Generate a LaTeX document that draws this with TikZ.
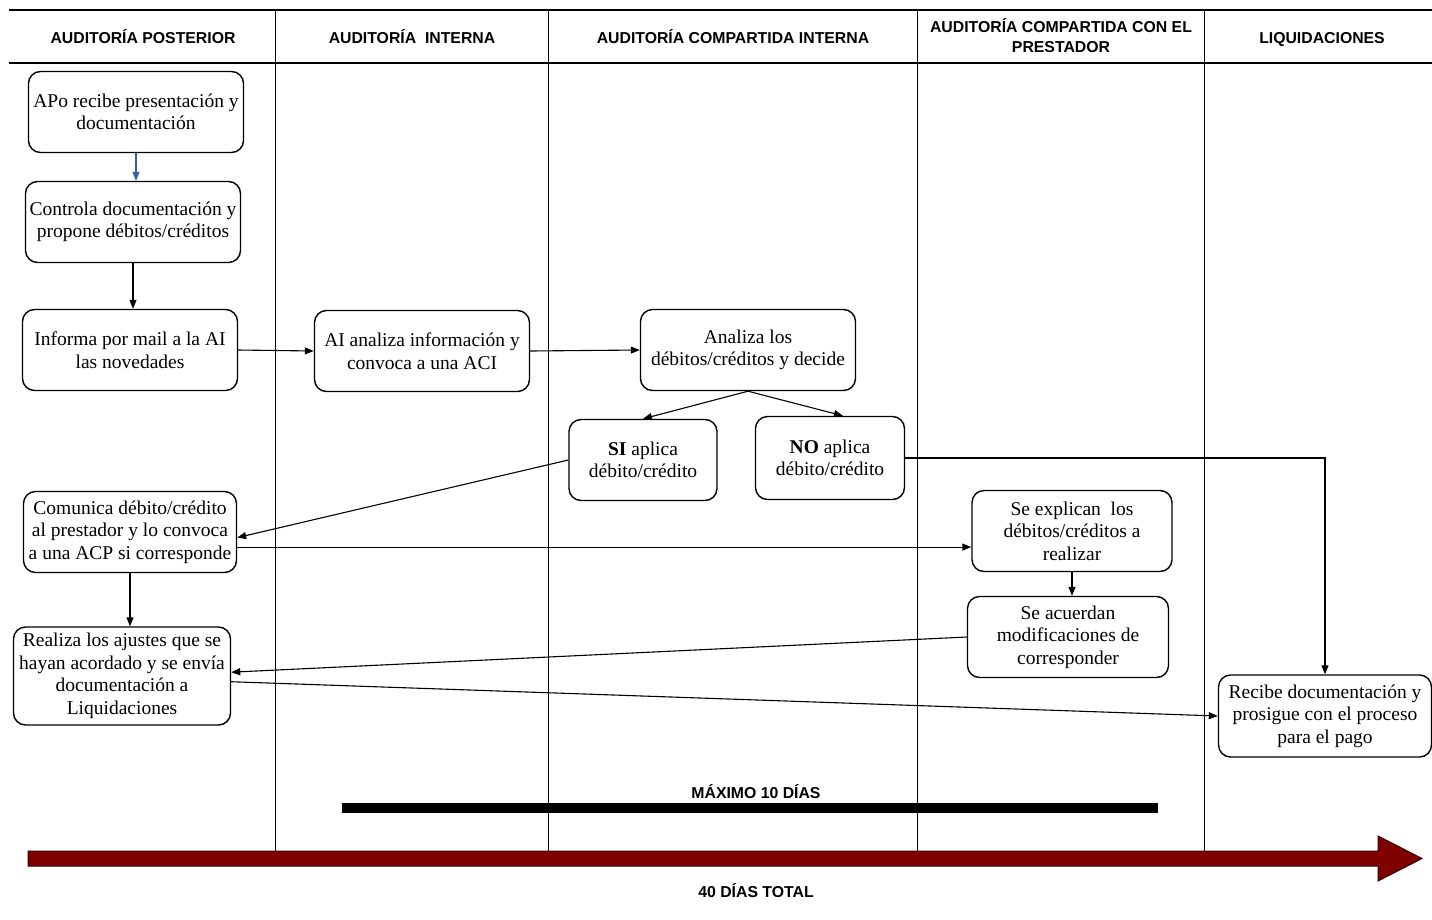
\documentclass[tikz,border=0pt]{standalone}
\usepackage{fontspec}
\setmainfont{Liberation Serif}
\setsansfont{Liberation Sans}
\usetikzlibrary{arrows.meta}
\definecolor{darkwine}{RGB}{128,0,0}
\definecolor{linkblue}{RGB}{55,95,170}

\begin{document}
\begin{tikzpicture}[x=1pt, y=-1pt, >={Triangle[length=9pt,width=7pt]}]
	\tikzstyle{box} = [rectangle, rounded corners=12pt, draw=black, line width=1.4pt, align=center, inner sep=2pt, minimum width=215pt, minimum height=81pt, font=\fontsize{19.5}{22.5}\selectfont]
	\tikzstyle{lane} = [align=center, inner sep=0pt, font=\sffamily\bfseries\fontsize{15.8}{20}\selectfont]
	\tikzstyle{flow} = [->, line width=1.1pt]
	\useasboundingbox (0,0) rectangle (1432,919);

	%Swimlane grid
	\draw[line width=1.4pt] (9,10) -- (1432,10) (9,63) -- (1432,63);
	\foreach \x in {275,548,917,1204}
		\draw[line width=0.9pt] (\x,10) -- (\x,851);
	\node[lane, anchor=base] (h_apo) at (143,43) {AUDITORÍA POSTERIOR};
	\node[lane, anchor=base] (h_ai) at (412,43) {AUDITORÍA~ INTERNA};
	\node[lane, anchor=base] (h_aci) at (733,43) {AUDITORÍA COMPARTIDA INTERNA};
	\node[lane] (h_acp) at (1061,36) {AUDITORÍA COMPARTIDA CON EL\\PRESTADOR};
	\node[lane, anchor=base] (h_liq) at (1322,43) {LIQUIDACIONES};

	\node[box] (apo_recibe) at (136,112) {APo recibe presentación y\\documentación};
	\node[box] (controla_doc) at (133,222) {Controla documentación y\\propone débitos/créditos};
	\node[box] (informa_ai) at (130,350) {Informa por mail a la AI\\las novedades};
	\node[box] (ai_analiza) at (422,351) {AI analiza información y\\convoca a una ACI};
	\node[box] (analiza_deb) at (748,350) {Analiza los\\débitos/créditos y decide};
	\node[box, minimum width=148pt] (si_aplica) at (643,460) {\textbf{SI} aplica\\débito/crédito};
	\node[box, minimum width=149pt, minimum height=83pt] (no_aplica) at (830,458) {\textbf{NO} aplica\\débito/crédito};
	\node[box, minimum width=213pt] (comunica) at (130,532) {Comunica débito/crédito\\al prestador y lo convoca\\a una ACP si corresponde};
	\node[box, minimum width=200pt] (se_explican) at (1072,531) {Se explican~ los\\débitos/créditos a\\realizar};
	\node[box, minimum width=201pt] (se_acuerdan) at (1068,637) {Se acuerdan\\modificaciones de\\corresponder};
	\node[box, minimum width=217pt, minimum height=98pt] (realiza_aj) at (122,676) {Realiza los ajustes que se\\hayan acordado y se envía\\documentación a\\Liquidaciones};
	\node[box, minimum width=213pt, minimum height=82pt] (recibe_doc) at (1325,716) {Recibe documentación y\\prosigue con el proceso\\para el pago};

	\draw[flow, linkblue] (apo_recibe.south) -- (apo_recibe.south |- controla_doc.north);
	\draw[line width=1.1pt]
	(controla_doc.south) edge[->] (controla_doc.south |- informa_ai.north)
	(informa_ai.east) edge[->] (ai_analiza.west)
	(ai_analiza.east) edge[->] (analiza_deb.west)
	(analiza_deb.south) edge[->] (si_aplica.north)
	(analiza_deb.south) edge[->] (no_aplica.73)
	(si_aplica.west) edge[->] (comunica.-3)
	(comunica.-8.5) edge[->] (comunica.-8.5 -| se_explican.west)
	(se_explican.south) edge[->] (se_explican.south |- se_acuerdan.north)
	(se_acuerdan.west) edge[->] (realiza_aj.2)
	(comunica.south) edge[->] (comunica.south |- realiza_aj.north)
	(realiza_aj.-3) edge[->] (recibe_doc.west)
	;
	\draw[flow] (no_aplica.east) -| (recibe_doc.north);

	%Time scale
	\node[lane] (max_dias) at (756,792) {MÁXIMO 10 DÍAS};
	\fill (342,803) rectangle (1158,813);
	\filldraw[fill=darkwine, draw=black!60!darkwine, line width=1pt]
		(28,851) -- (1378,851) -- (1378,836) -- (1422,858.5) -- (1378,881) -- (1378,866) -- (28,866) -- cycle;
	\node[lane] (total_dias) at (756,891) {40 DÍAS TOTAL};
\end{tikzpicture}
\end{document}
